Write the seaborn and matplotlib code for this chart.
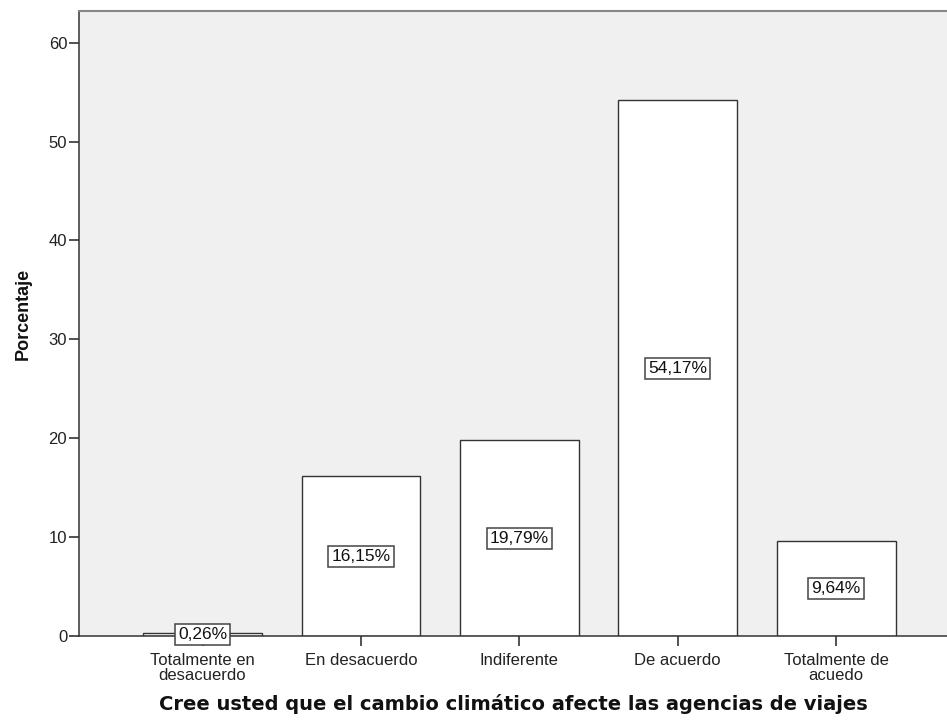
import matplotlib
matplotlib.use("Agg")
import matplotlib.pyplot as plt
import seaborn as sns
import pandas as pd

categories = ["Totalmente en\ndesacuerdo", "En desacuerdo", "Indiferente", "De acuerdo", "Totalmente de\nacuedo"]
values = [0.26, 16.15, 19.79, 54.17, 9.64]
labels = ["0,26%", "16,15%", "19,79%", "54,17%", "9,64%"]
yticks = [0, 10, 20, 30, 40, 50, 60]

sns.set_theme(style="white")
plt.rcParams["font.family"] = ["Liberation Sans", "DejaVu Sans"]

df = pd.DataFrame({"cat": categories, "val": values})

fig = plt.figure(figsize=(9.47, 7.24), dpi=100)
ax = fig.add_axes([79/947, 88/724, 1 - 79/947, (636-11)/724])
ax.set_facecolor("#F0F0F0")

sns.barplot(data=df, x="cat", y="val", ax=ax, color="white", edgecolor="#333333",
            linewidth=1.0, width=0.75, saturation=1)

for i, (v, lab) in enumerate(zip(values, labels)):
    ax.text(i, v / 2, lab, ha="center", va="center", fontsize=12.5, color="#111111",
            bbox=dict(boxstyle="square,pad=0.18", facecolor="white", edgecolor="#444444", linewidth=1.1),
            zorder=5)

ax.set_xlim(-0.78, 4.70)
ax.set_ylim(0, 63.2)
ax.set_yticks(yticks)
ax.set_yticklabels([str(t) for t in yticks], fontsize=12, color="#222222")
ax.tick_params(axis="x", labelsize=12, colors="#222222", length=7.5, width=1.1, direction="out", bottom=True, pad=5)
ax.tick_params(axis="y", length=7.5, width=1.1, direction="out", left=True, pad=1, colors="#222222")
for lab in ax.get_xticklabels():
    lab.set_linespacing(0.95)

for s in ["left", "bottom"]:
    ax.spines[s].set_color("#333333")
    ax.spines[s].set_linewidth(1.1)
ax.spines["top"].set_color("#888888")
ax.spines["top"].set_linewidth(1.5)
ax.spines["right"].set_visible(False)

ax.set_ylabel("Porcentaje", fontsize=13, fontweight="bold", color="#111111")
ax.yaxis.set_label_coords(-0.055, 0.515)
ax.set_xlabel("Cree usted que el cambio climático afecte las agencias de viajes",
              fontsize=14, fontweight="bold", family="DejaVu Sans", color="#111111", labelpad=8)

fig.savefig("out.png", dpi=100)
